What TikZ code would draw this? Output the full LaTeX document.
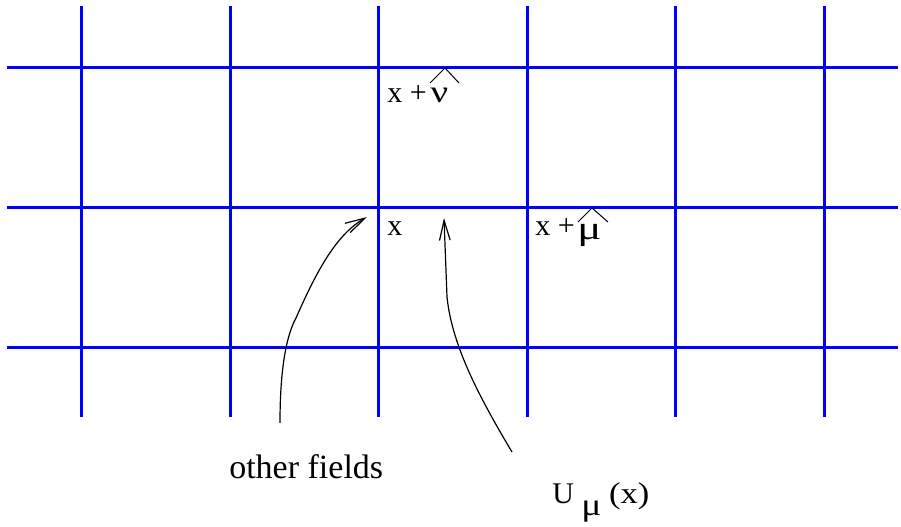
\documentclass[tikz,border=0pt]{standalone}
\usepackage{graphicx}
\usepackage{fontspec}
\setmainfont{Liberation Serif}
\usetikzlibrary{arrows.meta}
\tikzset{
  gridline/.style={color={rgb, 255:red, 0; green, 0; blue, 255}, line width=2.25pt},
  pointer/.style={line width=0.9pt, -{Straight Barb[length=15pt,width=8pt,line width=0.9pt]}},
  hatmark/.style={line width=0.75pt},
  sitelabel/.style={anchor=base west, inner sep=0pt, font=\fontsize{22.5}{27}\selectfont},
  notelabel/.style={anchor=base west, inner sep=0pt, font=\fontsize{25.5}{30}\selectfont},
}
\begin{document}
\begin{tikzpicture}[x=0.75pt,y=0.75pt,yscale=-1,xscale=1]
\useasboundingbox (0,0) rectangle (901,527);
%% lattice
\draw [gridline] (81,6) -- (81,417) ;
\draw [gridline] (230,6) -- (230,417) ;
\draw [gridline] (378,6) -- (378,417) ;
\draw [gridline] (527,6) -- (527,417) ;
\draw [gridline] (675,6) -- (675,417) ;
\draw [gridline] (824,6) -- (824,417) ;
\draw [gridline] (7,68) -- (898,68) ;
\draw [gridline] (7,208) -- (898,208) ;
\draw [gridline] (7,348) -- (898,348) ;
%% site labels
\draw (387,103) node [sitelabel] (xnu) {x +\hspace{3pt}\scalebox{1.3}[1.05]{ν}};
\draw (387,236) node [sitelabel] (xsite) {x};
\draw (535,236) node [sitelabel] (xmu) {x +\hspace{2pt}\raisebox{-3pt}{\scalebox{1.5}[1.1]{μ}}};
\draw [hatmark] (430,83) -- (445,68) -- (459,83) ;
\draw [hatmark] (578,222) -- (592,208) -- (608,222) ;
%% notes
\draw (229,479) node [notelabel] (others) {other fields};
\draw (552,504) node [sitelabel] (link) {U \raisebox{-9pt}{\scalebox{1.25}[1.05]{μ}} \scalebox{1.15}[1]{(x)}};
\coordinate (othertail) at (280,423);
\coordinate (othertip) at (367,217);
\coordinate (linktail) at (512,452);
\coordinate (linktip) at (444,218);
\draw [pointer] (othertail) .. controls (280,380) and (284,340) .. (296,318) .. controls (315,275) and (335,235) .. (othertip) ;
\draw [pointer] (linktail) .. controls (478,395) and (452,345) .. (447,297) .. controls (446,270) and (445,245) .. (linktip) ;
\end{tikzpicture}
\end{document}
